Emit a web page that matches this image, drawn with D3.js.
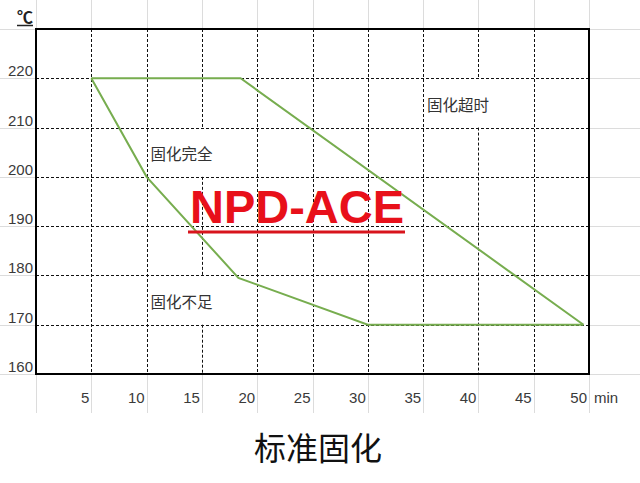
<!DOCTYPE html>
<html><head><meta charset="utf-8">
<script src="https://cdn.jsdelivr.net/npm/d3@7"></script>
<style>
html,body{margin:0;padding:0;background:#fff;}
svg{display:block;}
text{font-family:"Liberation Sans","Noto Sans CJK SC",Arial,sans-serif;}
.cjk{font-family:"Noto Sans CJK SC","Liberation Sans",sans-serif;}
</style>
</head><body>
<svg id="c" width="640" height="483"></svg>
<script>
// ---- data ----
const xTicks = [5,10,15,20,25,30,35,40,45,50];
const yTicks = [160,170,180,190,200,210,220];
const upperX = [5, 18.5, 49.5];
const upperY = [220, 220, 170];
const lowerX = [5, 10, 18.3, 30, 49.5];
const lowerY = [220, 200, 179.5, 170, 170];
const regionLabels = ["固化完全","固化超时","固化不足"];
const regionX = [10, 35, 10];
const regionY = [210, 220, 180];
const title = "标准固化";
const watermark = "NPD-ACE";
const yUnit = "℃";
const xUnit = "min";

const svg = d3.select("#c");
const x = d3.scaleLinear().domain([0,50]).range([36,589]);
const y = d3.scaleLinear().domain([160,230]).range([374,29]);

// spreadsheet background grid
const bg = svg.append("g").attr("stroke","#dcdcdc").attr("stroke-width",1);
d3.range(0,60,5).forEach(v=>{
  bg.append("line").attr("x1",Math.round(x(v))+0.5).attr("x2",Math.round(x(v))+0.5).attr("y1",0).attr("y2",413);
});
d3.range(160,240,10).forEach(v=>{
  bg.append("line").attr("x1",0).attr("x2",640).attr("y1",Math.round(y(v))+0.5).attr("y2",Math.round(y(v))+0.5);
});

// chart area
svg.append("rect").attr("x",x(0)).attr("y",y(230)).attr("width",x(50)-x(0)).attr("height",y(160)-y(230)).attr("fill","#fff");

// dashed grid, skipping cells covered by region labels
const gaps = regionX.map((v,i)=>({xv:v+5, y0:regionY[i], y1:regionY[i]-10}));
const grid = svg.append("g").attr("stroke","#111").attr("stroke-width",1).attr("stroke-dasharray","3,2");
xTicks.filter(v=>v<50).forEach(v=>{
  const px = Math.round(x(v))+0.5;
  let segs = [[230,160]];
  gaps.filter(g=>g.xv===v).forEach(g=>{
    segs = segs.flatMap(([a,b])=> (g.y0<=a && g.y1>=b) ? [[a,g.y0],[g.y1,b]] : [[a,b]]);
  });
  segs.forEach(([a,b])=>{
    if(a>b) grid.append("line").attr("x1",px).attr("x2",px).attr("y1",y(a)).attr("y2",y(b));
  });
});
yTicks.filter(v=>v>160).forEach(v=>{
  const py = Math.round(y(v))+0.5;
  grid.append("line").attr("x1",x(0)).attr("x2",x(50)).attr("y1",py).attr("y2",py);
});

// frame
svg.append("rect").attr("x",x(0)).attr("y",y(230)).attr("width",x(50)-x(0)).attr("height",y(160)-y(230))
  .attr("fill","none").attr("stroke","#000").attr("stroke-width",2);

// curves
const line = d3.line().x(d=>x(d[0])).y(d=>y(d[1]));
const green = "#77ad4f";
svg.append("path").datum(upperX.map((v,i)=>[v,upperY[i]])).attr("d",line)
  .attr("fill","none").attr("stroke",green).attr("stroke-width",2);
svg.append("path").datum(lowerX.map((v,i)=>[v,lowerY[i]])).attr("d",line)
  .attr("fill","none").attr("stroke",green).attr("stroke-width",2);

// region labels
regionLabels.forEach((t,i)=>{
  svg.append("text").attr("class","cjk").attr("x",x(regionX[i])+4).attr("y",y(regionY[i]-5)+1)
    .attr("dominant-baseline","central").attr("font-size",15.5).attr("fill","#333").text(t);
});

// y tick labels
yTicks.forEach(v=>{
  svg.append("text").attr("x",33).attr("y",y(v)-2).attr("text-anchor","end")
    .attr("font-size",15).attr("fill","#3a3a3a").text(v);
});
// x tick labels
xTicks.forEach(v=>{
  svg.append("text").attr("x",x(v)-2).attr("y",403).attr("text-anchor","end")
    .attr("font-size",15).attr("fill","#3a3a3a").text(v);
});
svg.append("text").attr("x",594).attr("y",403).attr("font-size",15).attr("fill","#3a3a3a").text(xUnit);

// unit
svg.append("text").attr("x",25).attr("y",23).attr("text-anchor","middle").attr("font-size",16)
  .attr("font-weight","bold").attr("fill","#222").text(yUnit);
svg.append("line").attr("x1",17).attr("x2",33).attr("y1",25.5).attr("y2",25.5).attr("stroke","#222").attr("stroke-width",1.5);

// watermark
svg.append("text").attr("x",297).attr("y",223).attr("text-anchor","middle")
  .attr("font-size",47).attr("font-weight","bold").attr("fill","#e8101a").text(watermark);
svg.append("line").attr("x1",188).attr("x2",405).attr("y1",232).attr("y2",232).attr("stroke","#d8141c").attr("stroke-width",3);

// title
svg.append("text").attr("class","cjk").attr("x",318).attr("y",446).attr("text-anchor","middle")
  .attr("dominant-baseline","central").attr("font-size",32).attr("fill","#111").text(title);
</script>
</body></html>
